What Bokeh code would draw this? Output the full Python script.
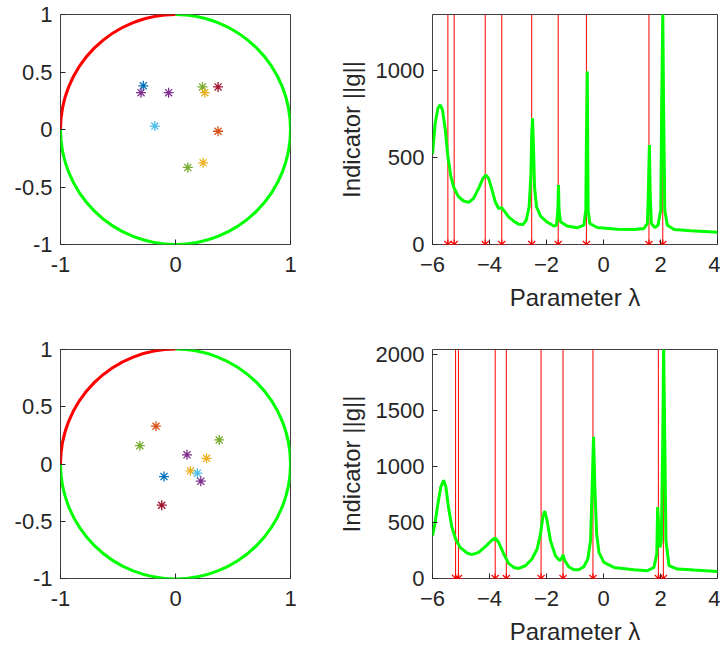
from bokeh.plotting import figure
from bokeh.layouts import column, row
from bokeh.models import Range1d, FixedTicker, Span
from bokeh.embed import file_html
from bokeh.resources import INLINE

# ---------------- data ----------------
# unit circle arcs (degrees)
red_arc_start = [90]
red_arc_end = [180]
green_arc_start = [180]
green_arc_end = [90]

# MATLAB default colour order
C_BLUE, C_ORANGE, C_YELLOW, C_PURPLE = "#0072BD", "#D95319", "#EDB120", "#7E2F8E"
C_GREEN, C_LBLUE, C_DRED = "#77AC30", "#4DBEEE", "#A2142F"

top_pts_x = [-0.28, -0.30, -0.06, 0.235, 0.255, 0.37, -0.18, 0.37, 0.107, 0.24]
top_pts_y = [0.38, 0.32, 0.32, 0.37, 0.32, 0.37, 0.03, -0.015, -0.33, -0.29]
top_pts_c = [C_BLUE, C_PURPLE, C_PURPLE, C_GREEN, C_YELLOW, C_DRED, C_LBLUE, C_ORANGE, C_GREEN, C_YELLOW]

bot_pts_x = [-0.17, -0.31, 0.38, 0.10, 0.27, 0.13, 0.19, 0.22, -0.10, -0.12]
bot_pts_y = [0.33, 0.16, 0.21, 0.08, 0.05, -0.06, -0.08, -0.15, -0.11, -0.36]
bot_pts_c = [C_ORANGE, C_GREEN, C_GREEN, C_PURPLE, C_YELLOW, C_YELLOW, C_LBLUE, C_PURPLE, C_BLUE, C_DRED]

# eigenvalue markers
top_eigs = [-5.46, -5.24, -4.15, -3.57, -2.52, -1.59, -0.60, 1.595, 2.08]
bot_eigs = [-5.19, -5.09, -3.80, -3.41, -2.19, -1.42, -0.37, 1.925, 2.10]

# indicator curves
lam_top = [-6.0, -5.906, -5.81, -5.73, -5.65, -5.55, -5.46, -5.355, -5.24, -5.09, -4.91, -4.73,
           -4.56, -4.38, -4.23, -4.12, -4.03, -3.91, -3.80, -3.68, -3.57, -3.48, -3.33, -3.15,
           -2.98, -2.82, -2.71, -2.61, -2.55, -2.52, -2.49, -2.46, -2.42, -2.35, -2.21, -1.98,
           -1.74, -1.65, -1.60, -1.58, -1.56, -1.51, -1.28, -0.92, -0.69, -0.62, -0.60, -0.57,
           -0.54, -0.48, -0.22, 0.48, 1.07, 1.42, 1.54, 1.57, 1.61, 1.64, 1.68, 1.80, 1.91,
           2.01, 2.04, 2.08, 2.11, 2.15, 2.24, 2.48, 3.06, 4.0]
g_top = [520, 697, 783, 803, 774, 659, 505, 390, 323, 275, 250, 242,
         265, 323, 380, 399, 380, 313, 246, 207, 211, 192, 159, 134,
         117, 115, 140, 217, 390, 620, 726, 582, 332, 217, 163, 129,
         106, 111, 198, 342, 198, 131, 106, 96, 111, 198, 582, 995,
         198, 121, 98, 88, 86, 92, 121, 275, 572, 275, 121, 98, 111,
         198, 774, 1330, 774, 198, 111, 86, 79, 71]

lam_bot = [-6.0, -5.906, -5.81, -5.71, -5.61, -5.53, -5.44, -5.32, -5.19, -5.03, -4.79, -4.62,
           -4.38, -4.15, -3.91, -3.80, -3.68, -3.50, -3.33, -3.15, -2.98, -2.74, -2.51, -2.33,
           -2.21, -2.13, -2.06, -1.98, -1.86, -1.69, -1.53, -1.45, -1.42, -1.37, -1.22, -1.04,
           -0.87, -0.69, -0.55, -0.455, -0.40, -0.35, -0.30, -0.24, -0.16, 0.014, 0.366, 1.07,
           1.54, 1.77, 1.87, 1.90, 1.94, 1.98, 2.03, 2.08, 2.11, 2.15, 2.19, 2.30, 2.59, 3.18, 4.0]
g_bot = [383, 503, 668, 817, 877, 817, 638, 458, 353, 278, 228, 213,
         234, 284, 344, 362, 323, 219, 135, 99, 90, 114, 174, 263,
         398, 548, 602, 518, 338, 204, 159, 189, 213, 165, 105, 78,
         78, 105, 174, 338, 787, 1266, 787, 398, 234, 144, 99, 78,
         69, 99, 219, 638, 458, 278, 338, 1237, 2060, 1237, 338, 114, 84, 75, 63]

top_ymax = 1322
bot_ymax = 2045

xticks_right = [-6, -4, -2, 0, 2, 4]
yticks_top_right = [0, 500, 1000]
yticks_bot_right = [0, 500, 1000, 1500, 2000]
xticks_left = [-1, 0, 1]
yticks_left = [-1, -0.5, 0, 0.5, 1]
left_overrides = {-1: "-1", -0.5: "-0.5", 0: "0", 0.5: "0.5", 1: "1"}

# ---------------- style ----------------
FONT = "Liberation Sans"
TXT = "#262626"
TICK_FS = "22px"
LAB_FS = "24px"


def style_axis(ax, ticks, overrides=None):
    ax.ticker = FixedTicker(ticks=ticks)
    ax.axis_line_color = None
    ax.major_tick_in = 5
    ax.major_tick_out = 0
    ax.major_tick_line_color = TXT
    ax.minor_tick_line_color = None
    if overrides:
        ax.major_label_overrides = overrides
    ax.major_label_text_font = FONT
    ax.major_label_text_font_size = TICK_FS
    ax.major_label_text_color = TXT
    ax.major_label_standoff = 8
    ax.axis_label_text_font = FONT
    ax.axis_label_text_font_size = LAB_FS
    ax.axis_label_text_font_style = "normal"
    ax.axis_label_text_color = TXT


def make_fig(fw, fh, xr, yr, mbl, mbr, mbt, mbb, xt, yt, ov=None):
    p = figure(frame_width=fw, frame_height=fh, x_range=xr, y_range=yr,
               output_backend="svg", toolbar_location=None,
               min_border_left=mbl, min_border_right=mbr,
               min_border_top=mbt, min_border_bottom=mbb)
    p.grid.visible = False
    p.outline_line_color = "#404040"
    p.outline_line_width = 1
    p.background_fill_color = "white"
    p.border_fill_color = "white"
    style_axis(p.xaxis[0], xt, ov)
    style_axis(p.yaxis[0], yt, ov)
    p.xaxis[0].major_label_standoff = 12
    return p


def circle_plot(px, py, pc, fh, mbt, mbb):
    p = make_fig(230, fh, Range1d(-1, 1), Range1d(-1, 1), 60, 40, mbt, mbb,
                 xticks_left, yticks_left, left_overrides)
    p.arc(x=0, y=0, radius=1, start_angle=green_arc_start, end_angle=green_arc_end,
          start_angle_units="deg", end_angle_units="deg", direction="anticlock",
          line_color="#00FF00", line_width=3)
    p.arc(x=0, y=0, radius=1, start_angle=red_arc_start, end_angle=red_arc_end,
          start_angle_units="deg", end_angle_units="deg", direction="anticlock",
          line_color="#FF0000", line_width=3)
    p.scatter(x=px, y=py, marker="asterisk", size=10, line_color=pc, line_width=1.3)
    return p


def indicator_plot(lam, g, eigs, ymax, yt, fh, mbt, mbb):
    p = make_fig(285, fh, Range1d(-6, 4), Range1d(0, ymax), 102, 3, mbt, mbb,
                 xticks_right, yt)
    for e in eigs:
        p.add_layout(Span(location=e, dimension="height", line_color="#FF0000",
                          line_width=1, level="underlay"))
    p.line(x=lam, y=g, line_color="#00FF00", line_width=3)
    p.scatter(x=eigs, y=[0] * len(eigs), marker="asterisk", size=10,
              line_color="#FF0000", line_width=1.2)
    p.xaxis[0].axis_label = "Parameter λ"
    p.xaxis[0].axis_label_standoff = 9
    p.yaxis[0].axis_label = "Indicator ||g||"
    p.yaxis[0].axis_label_standoff = 8
    return p


p1 = circle_plot(top_pts_x, top_pts_y, top_pts_c, 230, 14, 86)
p2 = indicator_plot(lam_top, g_top, top_eigs, top_ymax, yticks_top_right, 230, 14, 86)
p3 = circle_plot(bot_pts_x, bot_pts_y, bot_pts_c, 229, 19, 64)
p4 = indicator_plot(lam_bot, g_bot, bot_eigs, bot_ymax, yticks_bot_right, 229, 19, 64)

layout = column(row(p1, p2), row(p3, p4))
open("out.html", "w").write(file_html(layout, INLINE))
